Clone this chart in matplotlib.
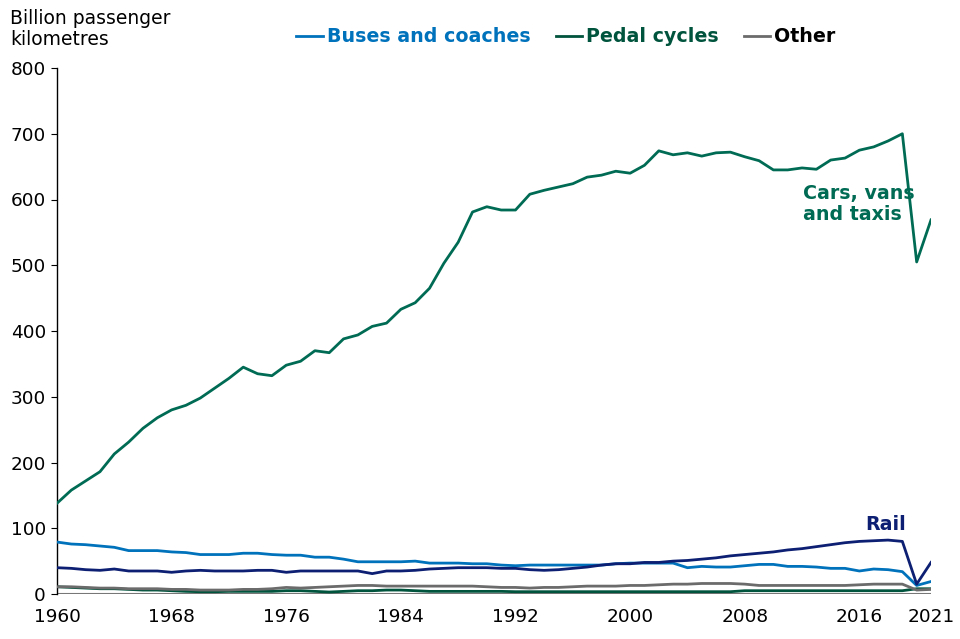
import matplotlib.pyplot as plt
import numpy as np

years = np.arange(1960, 2022)

cars = [138, 158, 172, 186, 213, 231, 252, 268, 280, 287,
        298, 313, 328, 345, 335, 332, 348, 354, 370, 367,
        388, 394, 407, 412, 433, 443, 465, 503, 535, 581,
        589, 584, 584, 608, 614, 619, 624, 634, 637, 643,
        640, 652, 674, 668, 671, 666, 671, 672, 665, 659,
        645, 645, 648, 646, 660, 663, 675, 680, 689, 700,
        505, 569]

buses = [79, 76, 75, 73, 71, 66, 66, 66, 64, 63,
         60, 60, 60, 62, 62, 60, 59, 59, 56, 56,
         53, 49, 49, 49, 49, 50, 47, 47, 47, 46,
         46, 44, 43, 44, 44, 44, 44, 44, 44, 46,
         47, 47, 47, 47, 40, 42, 41, 41, 43, 45,
         45, 42, 42, 41, 39, 39, 35, 38, 37, 34,
         13, 19]

rail = [40, 39, 37, 36, 38, 35, 35, 35, 33, 35,
        36, 35, 35, 35, 36, 36, 33, 35, 35, 35,
        35, 35, 31, 35, 35, 36, 38, 39, 40, 40,
        40, 39, 39, 37, 36, 37, 39, 41, 44, 46,
        46, 48, 48, 50, 51, 53, 55, 58, 60, 62,
        64, 67, 69, 72, 75, 78, 80, 81, 82, 80,
        15, 48]

pedal = [11, 10, 9, 8, 8, 7, 6, 6, 5, 4,
         3.5, 3.5, 4, 4, 4, 4, 5, 5, 4, 3,
         4, 5, 5, 6, 6, 5, 4, 4, 4, 4,
         4, 4, 3.5, 3.5, 3.5, 3.5, 3.5, 3.5, 3.5, 3.5,
         3.5, 3.5, 3.5, 3.5, 3.5, 3.5, 3.5, 3.5, 5, 5,
         5, 5, 5, 5, 5, 5, 5, 5, 5, 5,
         8, 8]

other = [11, 11, 10, 9, 9, 8, 8, 8, 7, 7,
         6, 6, 6, 7, 7, 8, 10, 9, 10, 11,
         12, 13, 13, 12, 12, 12, 12, 12, 12, 12,
         11, 10, 10, 9, 10, 10, 11, 12, 12, 12,
         13, 13, 14, 15, 15, 16, 16, 16, 15, 13,
         13, 13, 13, 13, 13, 13, 14, 15, 15, 15,
         6, 7]

xticks = [1960, 1968, 1976, 1984, 1992, 2000, 2008, 2016, 2021]

c_cars = '#006b54'
c_bus = '#0072bc'
c_rail = '#0c1f72'
c_pedal = '#00533c'
c_other = '#6b6b6b'

fig = plt.figure(figsize=(9.6, 6.39), dpi=100)
ax = fig.add_axes([57 / 960, 1 - 594 / 639, (931 - 57) / 960, (594 - 68) / 639])

lw = 2.0
ax.axhline(0, color='#777777', linewidth=1.5, zorder=1)
ax.plot(years, pedal, color=c_pedal, linewidth=lw, label='Pedal cycles', zorder=2)
ax.plot(years, other, color=c_other, linewidth=lw, label='Other', zorder=3)
ax.plot(years, buses, color=c_bus, linewidth=lw, label='Buses and coaches', zorder=4)
ax.plot(years, rail, color=c_rail, linewidth=lw, zorder=5)
ax.plot(years, cars, color=c_cars, linewidth=lw, zorder=6)

ax.set_xlim(1960, 2021)
ax.set_ylim(0, 800)
ax.set_xticks(xticks)
ax.set_yticks(range(0, 801, 100))
ax.tick_params(axis='x', length=0, labelsize=13.3, pad=10)
ax.tick_params(axis='y', length=4, labelsize=13.3, pad=4)

for side in ['top', 'right', 'bottom']:
    ax.spines[side].set_visible(False)
ax.spines['left'].set_color('black')
ax.spines['left'].set_linewidth(1)

# direct labels on the lines
ax.text(2012.05, 593, 'Cars, vans\nand taxis', color=c_cars, fontsize=13.7,
        fontweight='bold', ha='left', va='center', linespacing=1.1)
ax.text(2016.4, 105, 'Rail', color=c_rail, fontsize=13.7, fontweight='bold',
        ha='left', va='center')

fig.text(10 / 960, 1 - 29 / 639, 'Billion passenger\nkilometres', fontsize=13.5,
         ha='left', va='center', linespacing=1.15)

handles, labels = ax.get_legend_handles_labels()
order = [2, 0, 1]
leg = fig.legend([handles[i] for i in order], [labels[i] for i in order],
                 loc='center', bbox_to_anchor=(566 / 960, 1 - 37 / 639), ncol=3,
                 frameon=False, handlelength=1.4, handletextpad=0.2,
                 columnspacing=1.32, labelcolor=[c_bus, c_pedal, 'black'],
                 prop={'size': 13.7, 'weight': 'bold'})

fig.savefig('out.png', dpi=100)
